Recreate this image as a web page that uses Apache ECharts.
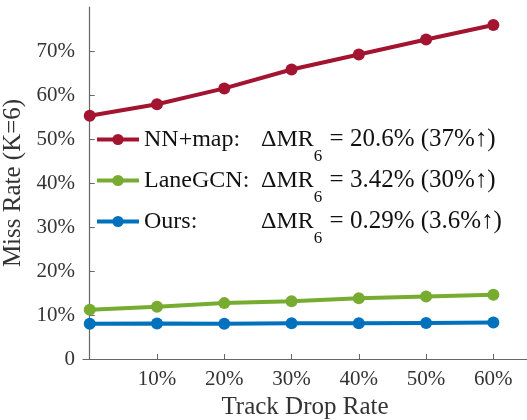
<!DOCTYPE html>
<html>
<head>
<meta charset="utf-8">
<script src="https://cdn.jsdelivr.net/npm/echarts@6/dist/echarts.min.js"></script>
<style>
  html, body { margin: 0; padding: 0; background: #fff; }
  #chart { width: 527px; height: 420px; }
</style>
</head>
<body>
<div id="chart"></div>
<script>
// track drop rate (%) and miss rate (%) for each method
const dropRates = [0, 10, 20, 30, 40, 50, 60];
const xTicks = [10, 20, 30, 40, 50, 60];
const nnMap = [55.3, 57.9, 61.5, 65.8, 69.2, 72.6, 75.9];
const laneGCN = [11.2, 11.9, 12.7, 13.1, 13.8, 14.2, 14.6];
const ours = [8.0, 8.05, 8.0, 8.1, 8.1, 8.2, 8.3];

const names = ['NN+map:', 'LaneGCN:', 'Ours:'];
const deltas = ['20.6% (37%\u2191)', '3.42% (30%\u2191)', '0.29% (3.6%\u2191)'];
const colors = ['#A2142F', '#77AC30', '#0072BD'];
const values = [nnMap, laneGCN, ours];

const font = '"Liberation Serif", "Times New Roman", serif';
const ink = '#333';
const axisColor = '#666';

const chart = echarts.init(document.getElementById('chart'));

const option = {
  animation: false,
  textStyle: { fontFamily: font },
  grid: { left: 83, right: 0, top: 7, bottom: 61, containLabel: false, outerBoundsMode: 'none' },
  legend: {
    orient: 'vertical',
    left: 95,
    top: 127,
    padding: 0,
    itemWidth: 42,
    itemHeight: 14,
    itemGap: 3,
    data: names,
    lineStyle: { width: 4 },
    formatter: (name) => {
      const i = names.indexOf(name);
      return '{n|' + name + '}{d|\u0394MR}{s|6}{r| = ' + deltas[i] + '}';
    },
    textStyle: {
      fontFamily: font,
      color: '#111',
      fontSize: 24,
      rich: {
        n: { fontFamily: font, fontSize: 24, color: '#111', width: 117 },
        d: { fontFamily: font, fontSize: 24, color: '#111' },
        s: { fontFamily: font, fontSize: 17, color: '#111', padding: [34, 1, 0, 0] },
        r: { fontFamily: font, fontSize: 25, color: '#111' }
      }
    }
  },
  xAxis: {
    type: 'value',
    min: -1,
    max: 65,
    name: 'Track Drop Rate',
    nameLocation: 'middle',
    nameGap: 36,
    nameTextStyle: { fontFamily: font, fontSize: 25, color: ink },
    axisLine: { lineStyle: { color: axisColor, width: 1.2 } },
    axisTick: { inside: true, length: 5, customValues: xTicks, lineStyle: { color: axisColor } },
    axisLabel: {
      customValues: xTicks,
      margin: 10,
      fontFamily: font,
      fontSize: 21,
      color: ink,
      formatter: (v) => v + '%'
    },
    splitLine: { show: false }
  },
  yAxis: {
    type: 'value',
    min: 0,
    max: 80,
    interval: 10,
    name: 'Miss Rate (K=6)',
    nameLocation: 'middle',
    nameGap: 52,
    nameTextStyle: { fontFamily: font, fontSize: 25, color: ink },
    axisLine: { show: true, lineStyle: { color: axisColor, width: 1.2 } },
    axisTick: { show: true, inside: true, length: 5, lineStyle: { color: axisColor } },
    axisLabel: {
      showMaxLabel: false,
      margin: 8,
      fontFamily: font,
      fontSize: 21,
      color: ink,
      formatter: (v) => (v === 0 ? '0' : v + '%')
    },
    splitLine: { show: false }
  },
  series: names.map((name, i) => ({
    name: name,
    type: 'line',
    data: dropRates.map((x, j) => [x, values[i][j]]),
    symbol: 'circle',
    symbolSize: 12,
    itemStyle: { color: colors[i] },
    lineStyle: { color: colors[i], width: 4 },
    z: 3 - i
  }))
};

chart.setOption(option);
</script>
</body>
</html>
